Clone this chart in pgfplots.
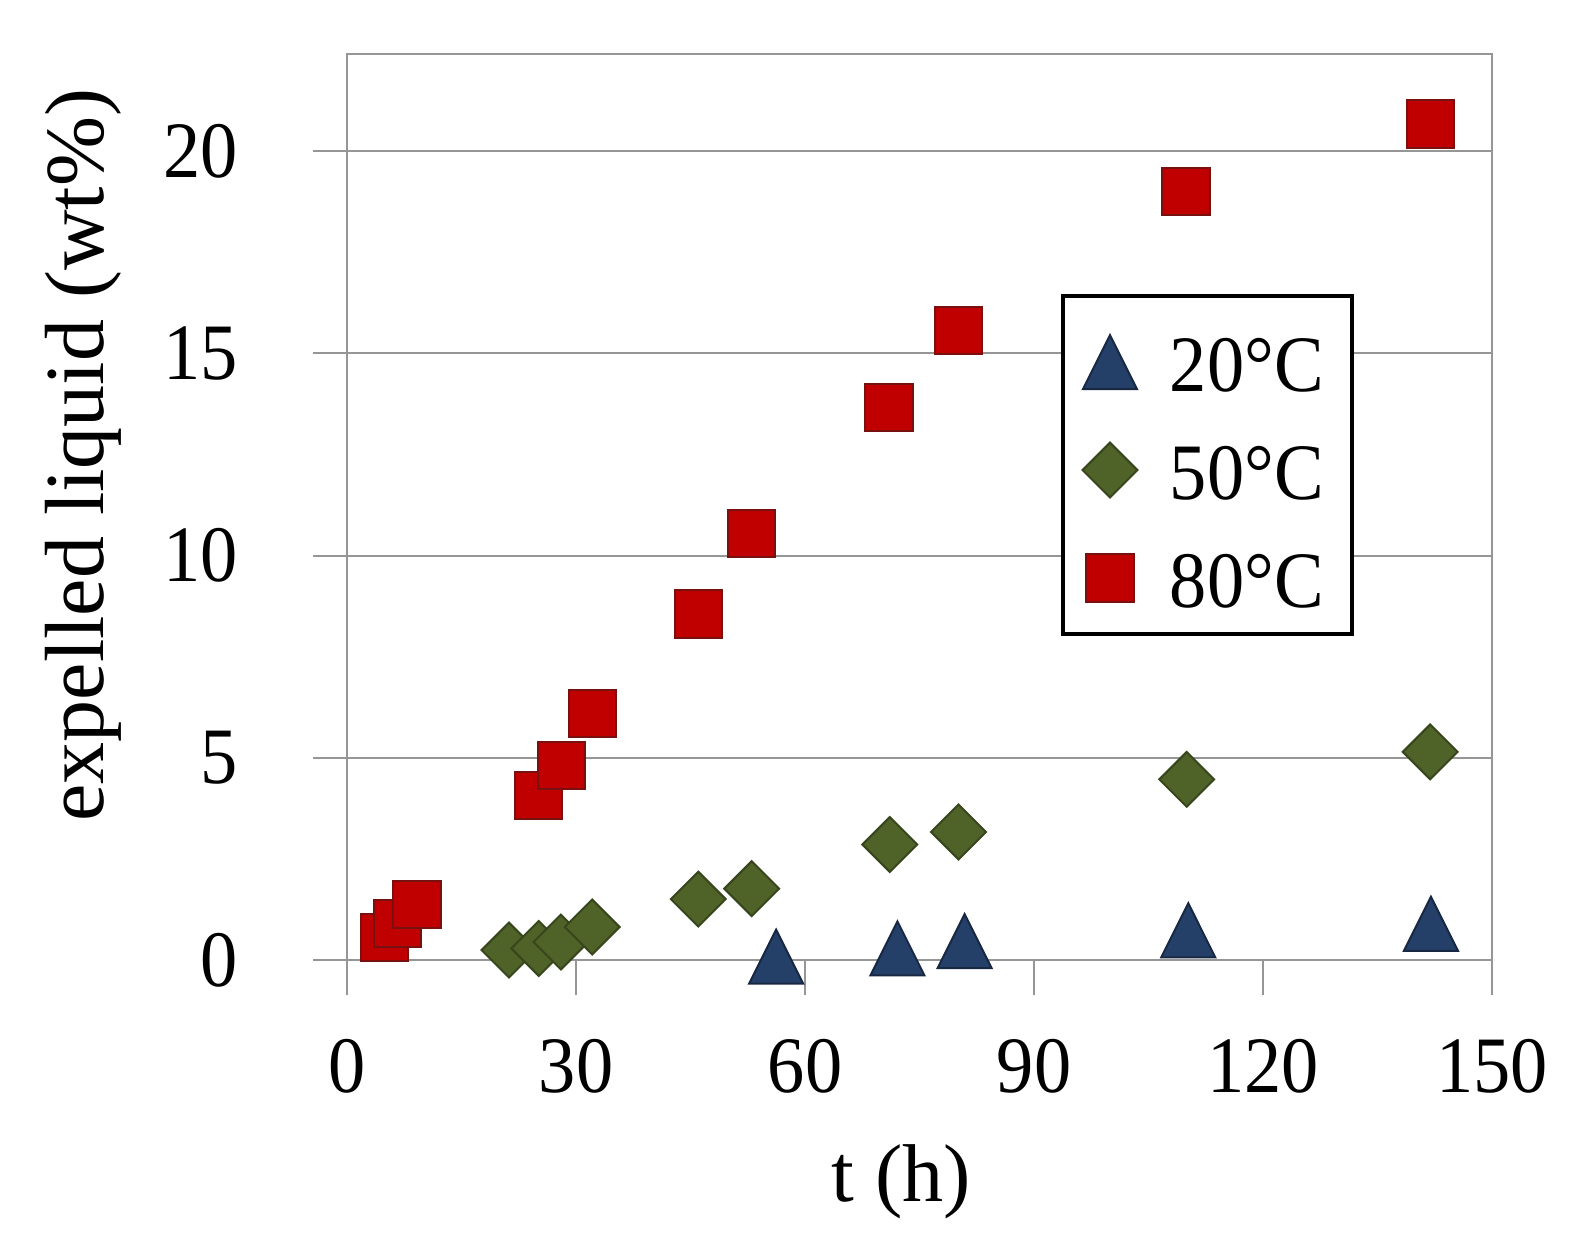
\documentclass[border=0pt]{standalone}
\usepackage{pgfplots}
\pgfplotsset{compat=1.18}
\usepackage{fontspec}
\setmainfont{Liberation Serif}
\newfontfamily\numfont{Liberation Serif}[FakeStretch=0.93]
\definecolor{c20}{RGB}{36,64,104}
\definecolor{c20b}{RGB}{24,40,66}
\definecolor{c50}{RGB}{79,98,40}
\definecolor{c50b}{RGB}{55,70,28}
\definecolor{c80}{RGB}{192,0,0}
\definecolor{c80b}{RGB}{120,16,16}
\definecolor{axgray}{RGB}{150,150,150}
\begin{document}
\begin{tikzpicture}
\useasboundingbox (-86.8pt,-61.75pt) rectangle (306.45pt,248.8pt);
\begin{axis}[
  at={(0,0)}, anchor=south west,
  scale only axis, width=286.2pt, height=235.2pt,
  xmin=0, xmax=150, ymin=-0.865, ymax=22.39,
  xtick={0,30,60,90,120,150}, ytick={0,5,10,15,20},
  axis line style={draw=none},
  xtick style={draw=none},
  ytick style={draw=axgray, line width=0.5pt},
  ytick pos=left,
  tick align=outside, major tick length=8.5pt,
  ymajorgrids, grid style={axgray, line width=0.5pt},
  clip=false,
  /pgf/number format/assume math mode=true,
  ticklabel style={font=\numfont\fontsize{20}{24}\selectfont, inner sep=0pt},
  xticklabel style={anchor=base, yshift=-15.75pt},
  yticklabel style={anchor=east, xshift=-18.65pt},
  xlabel={t (h)}, ylabel={expelled liquid (wt\%)},
  xlabel style={at={(axis description cs:0.484,-0.2197)}, anchor=base, font=\fontsize{20.5}{24}\selectfont},
  ylabel style={at={(axis description cs:-0.2125,0.574)}, anchor=base, font=\fontsize{21}{25}\selectfont},
  legend cell align=left,
  legend style={
    at={(axis description cs:0.6235,0.7452)}, anchor=north west,
    draw=black, line width=1pt, fill=white,
    inner xsep=4.25pt, inner ysep=6.74pt,
    row sep=10pt, column sep=0pt,
    font=\numfont\fontsize{20}{24}\selectfont,
    nodes={inner sep=0pt, text height=17pt, text depth=0pt},
  },
  legend image code/.code={\draw[#1, yshift=-1.24pt] plot coordinates {(0pt,0pt)}; \path[draw=none, fill=none] (-7.5pt,0pt) (15pt,0pt);},
]
\draw[axgray, line width=0.5pt] (rel axis cs:0,0) -- (rel axis cs:0,1) -- (rel axis cs:1,1) -- (rel axis cs:1,0);
\pgfplotsinvokeforeach{0,30,60,90,120,150}{\draw[axgray, line width=0.5pt] (axis cs:#1,-0.865) -- (axis cs:#1,0);}

\addplot[only marks, mark=triangle*, mark size=7.8pt,
  mark options={fill=c20, draw=c20b, line width=0.5pt, yshift=-2.25pt, yscale=1.155}]
  coordinates {(56.2,0.09) (72.1,0.29) (80.9,0.47) (110.2,0.74) (142.0,0.90)};
\addlegendentry{20°C\kern2.85pt}

\addplot[only marks, mark=square*, mark size=4.85pt,
  mark options={fill=c50, draw=c50b, line width=0.5pt, rotate=45}]
  coordinates {(21.2,0.25) (25.1,0.29) (28.0,0.45) (32.1,0.82) (46.0,1.51) (53.0,1.77) (71.1,2.86) (80.1,3.17) (110.0,4.47) (141.9,5.15)};
\addlegendentry{50°C\kern2.85pt}

\addplot[only marks, mark=square*, mark size=5.9pt,
  mark options={fill=c80, draw=c80b, line width=0.5pt}]
  coordinates {(4.85,0.56) (6.63,0.90) (9.15,1.37) (25.1,4.07) (28.05,4.82) (32.1,6.09) (46.0,8.56) (53.0,10.54) (71.0,13.66) (80.1,15.57) (109.9,19.01) (141.95,20.67)};
\addlegendentry{80°C\kern2.85pt}
\end{axis}
\end{tikzpicture}
\end{document}
